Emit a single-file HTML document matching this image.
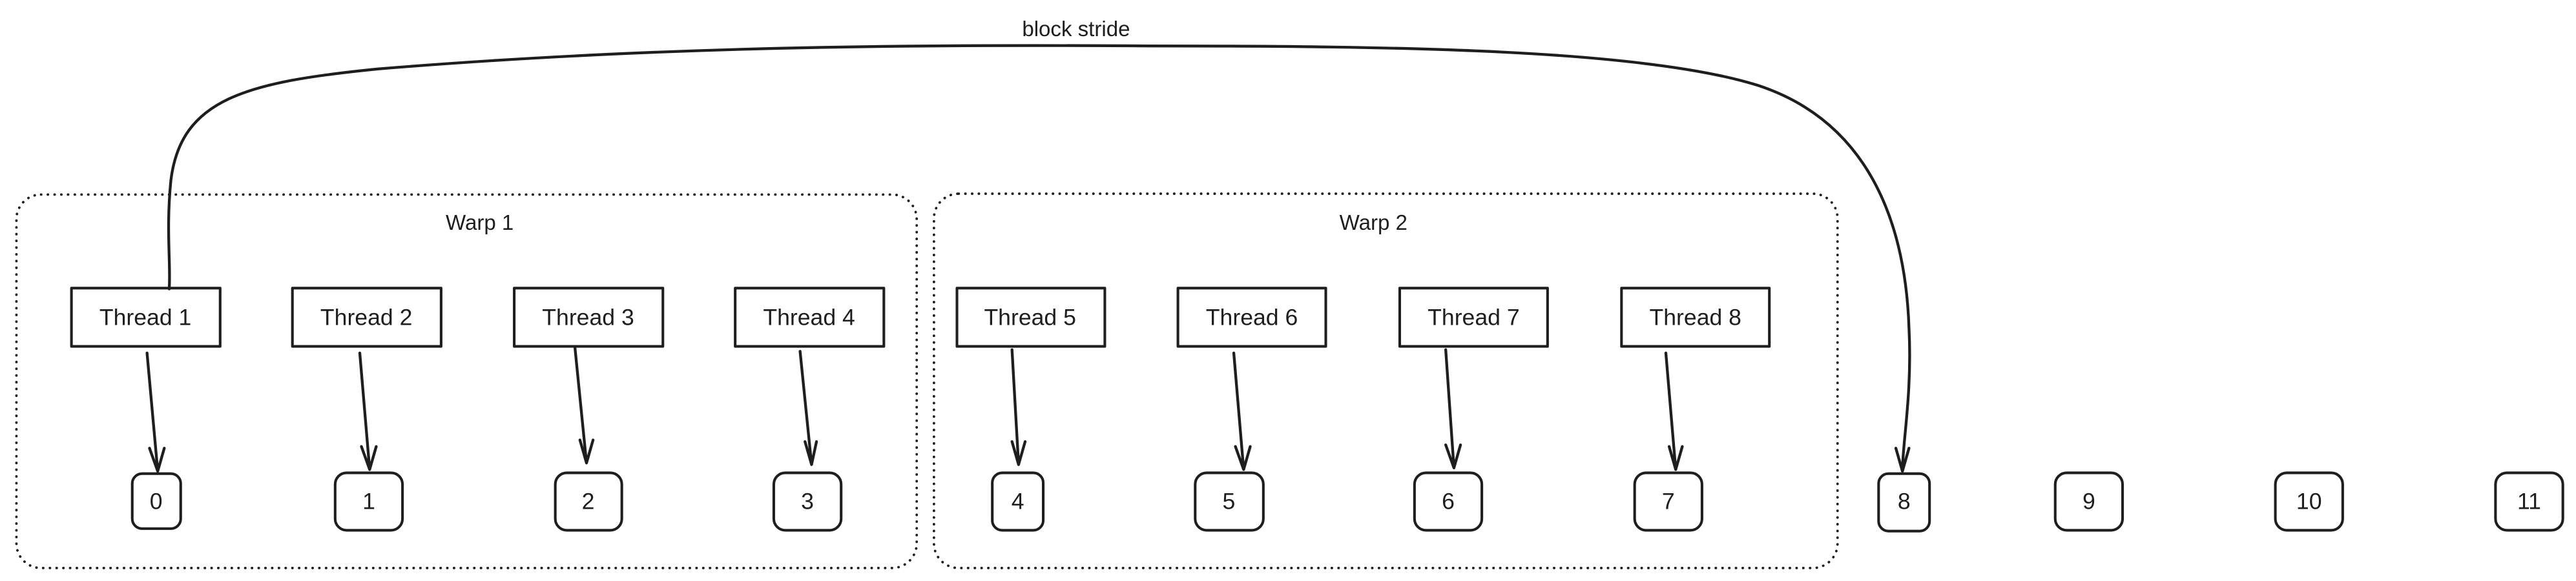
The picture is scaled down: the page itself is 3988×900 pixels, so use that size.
<!DOCTYPE html>
<html><head><meta charset="utf-8"><style>
html,body{margin:0;padding:0;background:#fff;width:3988px;height:900px;overflow:hidden}
svg{display:block}
text{font-family:"Liberation Sans",sans-serif;fill:#1e1e1e}
</style></head><body>
<svg width="3988" height="900" viewBox="0 0 1568 353.9" preserveAspectRatio="none" xmlns="http://www.w3.org/2000/svg">
<g fill="none" stroke="#1e1e1e" stroke-linecap="round" stroke-linejoin="round">
<rect x="10" y="118.5" width="548" height="227.5" rx="15" stroke-width="1.5" stroke-dasharray="0.1 4"/>
<rect x="568.5" y="118" width="550" height="228" rx="15" stroke-width="1.5" stroke-dasharray="0.1 4"/>
<g stroke-width="1.6">
<rect x="43.5" y="175.5" width="90.5" height="35.5"/>
<rect x="178" y="175.5" width="90.5" height="35.5"/>
<rect x="313" y="175.5" width="90.5" height="35.5"/>
<rect x="447.5" y="175.5" width="90.5" height="35.5"/>
<rect x="582.5" y="175.5" width="90" height="35.5"/>
<rect x="717" y="175.5" width="90" height="35.5"/>
<rect x="852" y="175.5" width="90" height="35.5"/>
<rect x="987" y="175.5" width="90" height="35.5"/>
<rect x="80.5" y="288.5" width="29.5" height="33.5" rx="6"/>
<rect x="204" y="288" width="41" height="35" rx="7"/>
<rect x="338" y="288" width="40.5" height="35" rx="7"/>
<rect x="471" y="288" width="41" height="35" rx="7"/>
<rect x="604" y="288" width="31" height="35" rx="6"/>
<rect x="727.5" y="288" width="41.5" height="35" rx="7"/>
<rect x="861" y="288" width="41" height="35" rx="7"/>
<rect x="995" y="288" width="41" height="35" rx="7"/>
<rect x="1143.5" y="288.5" width="31" height="35" rx="6"/>
<rect x="1251" y="288" width="41" height="35" rx="7"/>
<rect x="1385" y="288" width="41" height="35" rx="7"/>
<rect x="1519" y="288" width="41" height="35" rx="7"/>
</g>
<g stroke-width="1.7">
<path d="M89.5 215 L96 287 M91 273 L96 287 L100 273"/>
<path d="M219 215 L225 286 M220 272 L225 286 L229 272"/>
<path d="M350 212 L357 282 M353 268 L357 282 L361 268"/>
<path d="M487 214 L494 283 M490 269 L494 283 L497 269"/>
<path d="M616 213 L620 283 M616 269 L620 283 L624 269"/>
<path d="M751 215 L757 286 M752 272 L757 286 L761 272"/>
<path d="M880 213 L885 285 M880 271 L885 285 L889 271"/>
<path d="M1014 215 L1020 286 M1016 272 L1020 286 L1024 272"/>
<path d="M103 176 C104 160 101 140 104 110 C110 60 150 50 230 42 C400 28 560 27 700 28 C850 28 1000 30 1070 52 C1140 75 1160 140 1162 200 C1164 240 1158 270 1158 287 M1154 273 L1158 287 L1162 273"/>
</g>
</g>
<g font-size="14" text-anchor="middle">
<text x="88.5" y="198">Thread 1</text>
<text x="223" y="198">Thread 2</text>
<text x="358" y="198">Thread 3</text>
<text x="492.5" y="198">Thread 4</text>
<text x="627" y="198">Thread 5</text>
<text x="762" y="198">Thread 6</text>
<text x="897" y="198">Thread 7</text>
<text x="1032" y="198">Thread 8</text>
<text x="95" y="310">0</text>
<text x="224.5" y="310">1</text>
<text x="358" y="310">2</text>
<text x="491.5" y="310">3</text>
<text x="619.5" y="310">4</text>
<text x="748" y="310">5</text>
<text x="881.5" y="310">6</text>
<text x="1015.5" y="310">7</text>
<text x="1159" y="310">8</text>
<text x="1271.5" y="310">9</text>
<text x="1405.5" y="310">10</text>
<text x="1539.5" y="310">11</text>
</g>
<g font-size="13" text-anchor="middle">
<text x="292" y="140">Warp 1</text>
<text x="836" y="140">Warp 2</text>
<text x="655" y="22">block stride</text>
</g>
</svg>
</body></html>
